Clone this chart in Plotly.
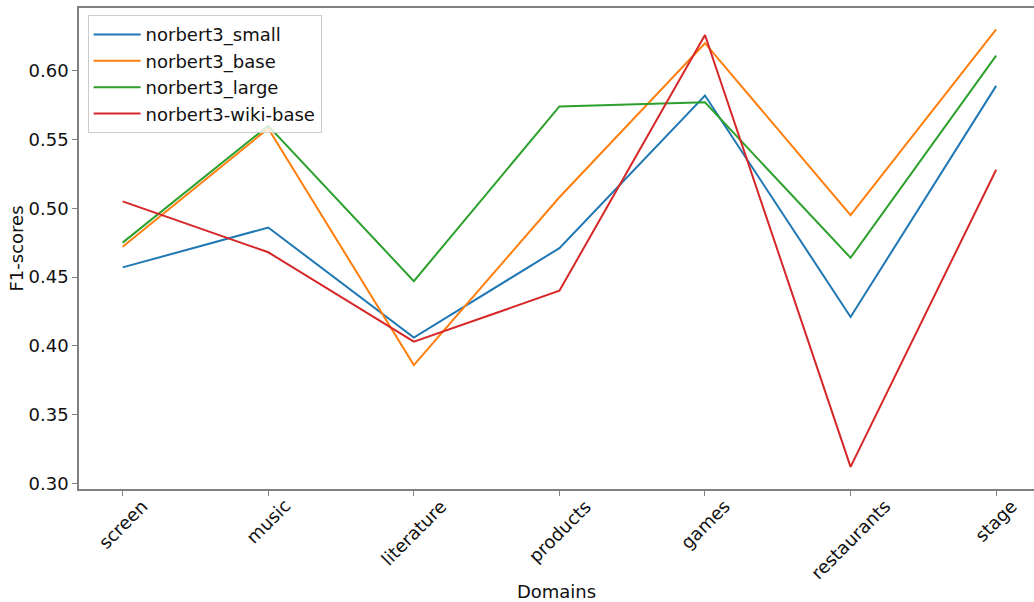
import plotly.graph_objects as go

domains = ["screen", "music", "literature", "products", "games", "restaurants", "stage"]
norbert3_small = [0.457, 0.486, 0.406, 0.471, 0.582, 0.421, 0.589]
norbert3_base = [0.472, 0.558, 0.386, 0.508, 0.620, 0.495, 0.630]
norbert3_large = [0.475, 0.560, 0.447, 0.574, 0.577, 0.464, 0.611]
norbert3_wiki_base = [0.505, 0.468, 0.403, 0.440, 0.626, 0.312, 0.528]
y_ticks = [0.30, 0.35, 0.40, 0.45, 0.50, 0.55, 0.60]

series = [
    ("norbert3_small", norbert3_small, "#1f77b4"),
    ("norbert3_base", norbert3_base, "#ff7f0e"),
    ("norbert3_large", norbert3_large, "#2ca02c"),
    ("norbert3-wiki-base", norbert3_wiki_base, "#d62728"),
]

FONT = "DejaVu Sans"
FS = 18
TXT = "#111111"
xidx = list(range(len(domains)))

fig = go.Figure()
for name, vals, color in series:
    fig.add_trace(go.Scatter(x=xidx, y=vals, mode="lines", name=name,
                             line=dict(color=color, width=2)))

for i, d in enumerate(domains):
    fig.add_annotation(x=i, xref="x", y=-0.008, yref="paper", text=d,
                       showarrow=False, textangle=-45, xanchor="center",
                       yanchor="top", font=dict(family=FONT, size=FS, color=TXT))

fig.update_layout(
    width=1034, height=602,
    margin=dict(l=79, r=0, t=8, b=113),
    plot_bgcolor="white", paper_bgcolor="white",
    font=dict(family=FONT, size=FS, color=TXT),
    showlegend=True,
    legend=dict(x=0.009, y=0.985, xanchor="left", yanchor="top", itemwidth=47,
                bgcolor="rgba(255,255,255,0.8)", bordercolor="#cccccc", borderwidth=1,
                font=dict(family=FONT, size=FS, color=TXT), tracegroupgap=0),
    xaxis=dict(range=[-0.3, 6.26], tickmode="array", tickvals=xidx, ticktext=[""] * len(domains),
               showgrid=False, zeroline=False, showline=True, linecolor="#808080", linewidth=1.5,
               mirror=True, ticks="outside", ticklen=5, tickcolor="#808080", tickwidth=1,
               title=dict(text="Domains", font=dict(family=FONT, size=FS, color=TXT))),
    yaxis=dict(range=[0.2959, 0.6456], tickmode="array",
               tickvals=y_ticks,
               ticktext=[f"{v:.2f}" for v in y_ticks],
               showgrid=False, zeroline=False, showline=True, linecolor="#808080", linewidth=1.5,
               ticks="outside", ticklen=5, tickcolor="#808080", tickwidth=1,
               tickfont=dict(family=FONT, size=FS, color=TXT),
               title=dict(text="F1-scores", standoff=0, font=dict(family=FONT, size=FS, color=TXT))),
)
fig.update_xaxes(title_standoff=88, automargin=False)
fig.update_yaxes(automargin=False)

fig.write_html("out.html")
